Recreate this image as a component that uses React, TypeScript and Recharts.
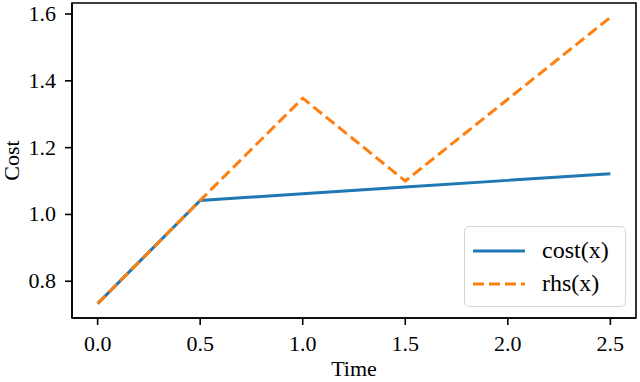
import React from 'react';
import { LineChart, Line, XAxis, YAxis, Legend, Label, ReferenceArea } from 'recharts';

const times = [0, 0.5, 1.0, 1.5, 2.0, 2.5];
const costValues = [0.733, 1.042, 1.062, 1.082, 1.102, 1.122];
const rhsValues = [0.733, 1.042, 1.348, 1.1, 1.345, 1.59];
const xTicks = [0, 0.5, 1.0, 1.5, 2.0, 2.5];
const yTicks = [0.8, 1.0, 1.2, 1.4, 1.6];

const data = times.map((t, i) => ({ t, cost: costValues[i], rhs: rhsValues[i] }));

const FONT = '"Liberation Serif", "DejaVu Serif", serif';
const FS = 22;
const BLUE = '#1f77b4';
const ORANGE = '#ff7f0e';
const X_DOMAIN: [number, number] = [-0.125, 2.625];
const Y_DOMAIN: [number, number] = [0.69, 1.633];

const XTick = ({ x, y, payload }: any) => (
  <text x={x} y={y} dy={16} textAnchor="middle" fontFamily={FONT} fontSize={FS} fill="#000">
    {Number(payload.value).toFixed(1)}
  </text>
);

const YTick = ({ x, y, payload }: any) => (
  <text x={x} y={y} dy={7} textAnchor="end" fontFamily={FONT} fontSize={FS} fill="#000">
    {Number(payload.value).toFixed(1)}
  </text>
);

const renderLegend = () => (
  <div style={{
    width: 162,
    height: 81,
    border: '1.5px solid #d6d6d6',
    borderRadius: 5,
    background: 'rgba(255,255,255,0.8)',
    boxSizing: 'border-box',
    fontFamily: FONT,
    fontSize: 24,
    color: '#000',
    padding: '7px 0 0 7px'
  }}>
    <div style={{ display: 'flex', alignItems: 'center', height: 33 }}>
      <svg width={54} height={10} style={{ marginRight: 16 }}>
        <line x1={1} y1={5} x2={53} y2={5} stroke={BLUE} strokeWidth={3} />
      </svg>
      <span>cost(x)</span>
    </div>
    <div style={{ display: 'flex', alignItems: 'center', height: 33 }}>
      <svg width={54} height={10} style={{ marginRight: 16 }}>
        <line x1={1} y1={5} x2={53} y2={5} stroke={ORANGE} strokeWidth={3} strokeDasharray="11 5" />
      </svg>
      <span>rhs(x)</span>
    </div>
  </div>
);

export default function App() {
  return (
    <div style={{ position: 'absolute', left: 0, top: 0, width: 640, height: 382, background: '#fff', fontFamily: FONT }}>
      <LineChart width={640} height={382} data={data} margin={{ top: 3, right: 4, left: 0, bottom: 0 }} style={{ fontFamily: FONT }}>
        <XAxis
          dataKey="t"
          type="number"
          domain={X_DOMAIN}
          ticks={xTicks}
          allowDataOverflow
          tick={<XTick />}
          tickSize={7}
          tickMargin={10}
          height={64}
          stroke="#000"
          strokeWidth={1.6}
        >
          <Label value="Time" position="insideBottom" offset={0} style={{ fontFamily: FONT, fontSize: FS, fill: '#000' }} dy={-6} />
        </XAxis>
        <YAxis
          type="number"
          domain={Y_DOMAIN}
          ticks={yTicks}
          allowDataOverflow
          tick={<YTick />}
          tickSize={7}
          tickMargin={9}
          width={72}
          stroke="#000"
          strokeWidth={1.6}
        >
          <Label value="Cost" angle={-90} position="center" dx={-25} style={{ fontFamily: FONT, fontSize: FS, fill: '#000', textAnchor: 'middle' }} />
        </YAxis>
        <ReferenceArea x1={X_DOMAIN[0]} x2={X_DOMAIN[1]} y1={Y_DOMAIN[0]} y2={Y_DOMAIN[1]} fill="none" fillOpacity={0} stroke="#000" strokeWidth={1.6} strokeOpacity={1} />
        <Line dataKey="cost" stroke={BLUE} strokeWidth={3} dot={false} isAnimationActive={false} />
        <Line dataKey="rhs" stroke={ORANGE} strokeWidth={3} strokeDasharray="11 5" dot={false} isAnimationActive={false} />
        <Legend
          layout="horizontal"
          verticalAlign="middle"
          align="center"
          content={renderLegend}
          wrapperStyle={{ left: 464, top: 226, width: 162, height: 81 }}
        />
      </LineChart>
    </div>
  );
}
